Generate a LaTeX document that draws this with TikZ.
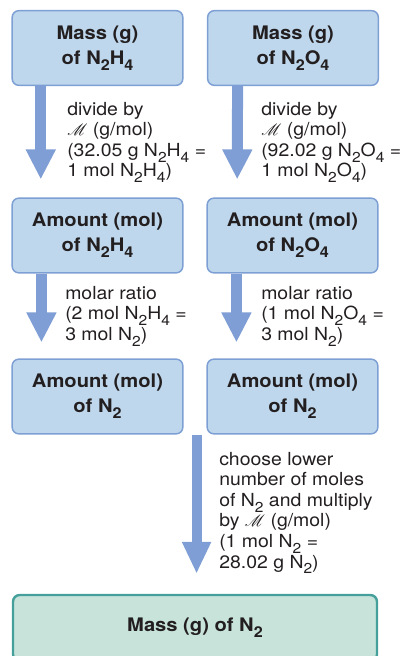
\documentclass[tikz,border=0pt]{standalone}
\usepackage{fontspec}
\setmainfont{TeX Gyre Heros}[FakeStretch=1.08]
\usepackage{mathrsfs}
\usetikzlibrary{arrows.meta}

\definecolor{boxfill}{RGB}{190,215,236}
\definecolor{boxline}{RGB}{125,159,212}
\definecolor{arrowblue}{RGB}{127,158,214}
\definecolor{endfill}{RGB}{200,228,218}
\definecolor{endline}{RGB}{69,160,155}
\definecolor{ink}{RGB}{35,31,32}

\newcommand{\sub}[1]{\raisebox{-0.32em}{\scalebox{0.8}{#1}}}
\newcommand{\molmass}{\raisebox{0.05em}{\scalebox{0.85}{$\mathscr{M}$}}}

\begin{document}
\begin{tikzpicture}[x=0.75pt,y=-0.75pt,
    box/.style={draw=boxline, fill=boxfill, line width=1.1pt, rounded corners=5pt,
      minimum width=128pt, minimum height=56pt, align=center, text=ink,
      font=\fontsize{14}{19}\selectfont\bfseries},
    endbox/.style={box, draw=endline, fill=endfill, line width=1.8pt,
      minimum width=273pt, minimum height=49.5pt},
    note/.style={anchor=north west, inner sep=0pt, align=left, text=ink,
      font=\fontsize{13.5}{15.4}\selectfont},
    flow/.style={draw=arrowblue, line width=8.25pt, -{Triangle[width=21pt,length=22.5pt]}},
    bigflow/.style={flow, line width=7.5pt, -{Triangle[width=20.25pt,length=24pt]}}]
  \useasboundingbox (0,0) rectangle (408,656);
  \clip (0,0) rectangle (408,656);

  \node[box] (mN2H4) at (97.5,48) {Mass (g)\\of N\sub{2}H\sub{4}};
  \node[box] (mN2O4) at (293,48) {Mass (g)\\of N\sub{2}O\sub{4}};
  \node[box] (aN2H4) at (97.5,235.5) {Amount (mol)\\of N\sub{2}H\sub{4}};
  \node[box] (aN2O4) at (292.5,235.5) {Amount (mol)\\of N\sub{2}O\sub{4}};
  \node[box] (nA) at (97.5,396.5) {Amount (mol)\\of N\sub{2}};
  \node[box] (nB) at (292.5,396.5) {Amount (mol)\\of N\sub{2}};
  \node[endbox] (mN2) at (195,628) {Mass (g) of N\sub{2}};

  \draw[flow, shorten >=13.5pt] ([xshift=22pt]mN2H4.south west) -- ([xshift=22pt]aN2H4.north west);
  \draw[flow, shorten >=13.5pt] ([xshift=23pt]mN2O4.south west) -- ([xshift=23pt]aN2O4.north west);
  \draw[flow, shorten >=12pt] ([xshift=22.5pt]aN2H4.south west) -- ([xshift=22.5pt]nA.north west);
  \draw[flow, shorten >=12pt] ([xshift=22.5pt]aN2O4.south west) -- ([xshift=22.5pt]nB.north west);
  \draw[bigflow, shorten >=15pt] ([xshift=9.75pt]nA.south east) coordinate (gap) -- (gap |- mN2.north);

  \node[note] (t1) at (67,102) {divide by\\\molmass{} (g/mol)\\(32.05 g N\sub{2}H\sub{4} =\\1 mol N\sub{2}H\sub{4})};
  \node[note] (t2) at (261,102) {divide by\\\molmass{} (g/mol)\\(92.02 g N\sub{2}O\sub{4} =\\1 mol N\sub{2}O\sub{4})};
  \node[note] (t3) at (65,286) {molar ratio\\(2 mol N\sub{2}H\sub{4} =\\3 mol N\sub{2})};
  \node[note] (t4) at (261,286) {molar ratio\\(1 mol N\sub{2}O\sub{4} =\\3 mol N\sub{2})};
  \node[note] (t5) at (219,452) {choose lower\\number of moles\\of N\sub{2} and multiply\\by \molmass{} (g/mol)\\(1 mol N\sub{2} =\\28.02 g N\sub{2})};
\end{tikzpicture}
\end{document}
